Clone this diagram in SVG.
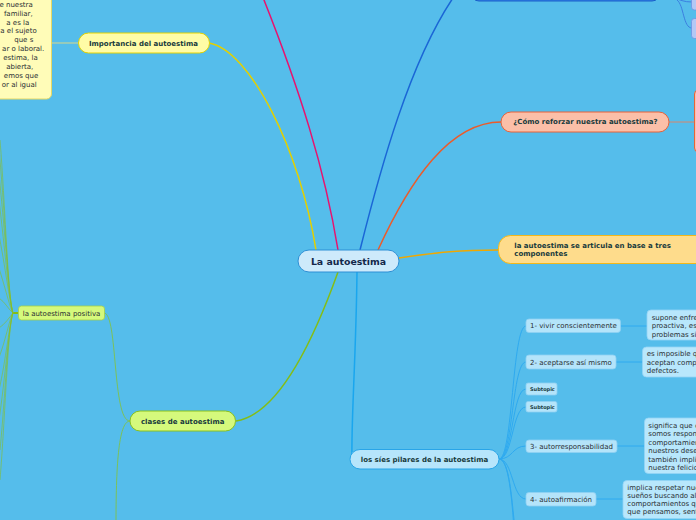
<svg xmlns="http://www.w3.org/2000/svg" width="696" height="520" viewBox="0 0 696 520">
<style>
.t{font-family:"DejaVu Sans",Verdana,sans-serif;font-size:7px;fill:#2a2f33}
.b{font-family:"DejaVu Sans",Verdana,sans-serif;font-size:7px;font-weight:bold;fill:#183a3c}
.c{fill:none}
.gf{stroke:#86c02a;stroke-width:0.8;fill:none;opacity:0.75}
.bl{stroke:#2eaaf0;stroke-width:1;fill:none}
.sub{fill:#b4e4fa;stroke:#8fd0f3;stroke-width:0.8}
.det{fill:#b8e7fc;stroke:#94d4f5;stroke-width:0.8}
</style>
<rect x="0" y="0" width="696" height="520" fill="#55BDEB"/>
<g id="connectors">
<path class="c" d="M338,250 C325,170 300,90 262,-5" stroke="#e8126e" stroke-width="1.5"/>
<path class="c" d="M360,250 C380,170 410,60 455,-5" stroke="#1a66d6" stroke-width="1.5"/>
<path class="c" d="M677,0 C684,5 683,28 692,28" stroke="#3b7fe0" stroke-width="1"/>
<path class="c" d="M672,-3 C680,0 684,2 692,2" stroke="#3b7fe0" stroke-width="1"/>
<path class="c" d="M209,43 C250,50 300,150 316,250" stroke="#e3d000" stroke-width="1.5"/>
<path class="c" d="M52,43 L78,43" stroke="#d8d88a" stroke-width="1"/>
<path class="c" d="M378,250 C410,180 450,122 501,122" stroke="#ec5b2a" stroke-width="1.5"/>
<path class="c" d="M669,122 L695,122" stroke="#d9866a" stroke-width="1"/>
<path class="c" d="M399,258 C440,252 460,250 498,250" stroke="#f0a800" stroke-width="1.5"/>
<path class="c" d="M236,421 C275,415 310,350 338,272" stroke="#84bd16" stroke-width="1.5"/>
<path class="c" d="M104,313 C118,313 112,421 130,421" stroke="#7fc24a" stroke-width="0.9"/>
<path class="c" d="M130,421 C118,421 116,470 116,525" stroke="#7fc24a" stroke-width="0.9"/>
<path class="c" d="M18,313 L12,313" stroke="#84bd16" stroke-width="2"/>
<path class="gf" d="M13,313 C8,300 5,200 0,140"/>
<path class="gf" d="M13,313 C8,300 5,210 -1,150"/>
<path class="gf" d="M13,313 C9,300 5,230 -1,175"/>
<path class="gf" d="M13,313 C9,300 5,250 -1,200"/>
<path class="gf" d="M13,313 C9,300 6,270 -2,230"/>
<path class="gf" d="M13,313 C9,305 6,290 -2,265"/>
<path class="gf" d="M13,313 C9,310 5,302 -1,298"/>
<path class="gf" d="M13,313 C9,318 5,324 -1,328"/>
<path class="gf" d="M13,313 C9,320 6,340 -2,360"/>
<path class="gf" d="M13,313 C9,325 6,360 -1,390"/>
<path class="gf" d="M13,313 C9,325 5,380 -1,420"/>
<path class="gf" d="M13,313 C8,325 5,400 0,450"/>
<path class="gf" d="M13,313 C8,325 5,420 0,480"/>
<path class="c" d="M357,272 C356,360 351,420 352,459" stroke="#1aa6ee" stroke-width="1.5"/>
<path class="bl" d="M499,459 C513,459 512,326 526,326"/>
<path class="bl" d="M499,459 C513,459 512,362 526,362"/>
<path class="bl" d="M499,459 C513,459 512,389 526,389"/>
<path class="bl" d="M499,459 C513,459 512,407 526,407"/>
<path class="bl" d="M499,459 C513,459 512,446 526,446"/>
<path class="bl" d="M499,459 C513,459 512,499 526,499"/>
<path class="bl" d="M499,459 C513,459 512,530 520,560"/>
<path class="bl" d="M499,459 C513,459 514,540 518,600"/>
<path class="bl" d="M620,326 L647,326"/>
<path class="bl" d="M616,362 L643,362"/>
<path class="bl" d="M617,446 L645,446"/>
<path class="bl" d="M596,499 L623,499"/>
</g>
<g id="blue-top">
<rect x="471" y="-20" width="189" height="21" rx="8" fill="#2f80e8" stroke="#1a5fc8" stroke-width="1"/>
</g>
<g id="blue-sub1"><rect x="691.5" y="-5" width="20" height="15" rx="3" fill="#b3c8f5" stroke="#6f93e2" stroke-width="0.8"/></g>
<g id="blue-sub2"><rect x="691.5" y="18.5" width="20" height="20" rx="3" fill="#b3c8f5" stroke="#6f93e2" stroke-width="0.8"/></g>
<g id="central">
<rect x="298" y="250" width="101" height="22" rx="11" fill="#cdeafb" stroke="#2d8fd5" stroke-width="1"/>
<text x="348.5" y="264.5" text-anchor="middle" font-family="DejaVu Sans,Verdana,sans-serif" font-size="9.4" font-weight="bold" fill="#14284a">La autoestima</text>
</g>
<g id="importancia-text">
<rect x="-10" y="-10" width="61.5" height="109" rx="5" fill="#fffcb8" stroke="#e6d964" stroke-width="1"/>
<text class="t" text-anchor="end"><tspan x="32.7" y="6.5">e nuestra</tspan><tspan x="32.7" y="15.8">familiar,</tspan><tspan x="29.3" y="24.8">a es la</tspan><tspan x="36.7" y="32.8">a el sujeto</tspan><tspan x="33.3" y="41.8">que s</tspan><tspan x="44.3" y="51.2">ar o laboral.</tspan><tspan x="37.7" y="60.2">estima, la</tspan><tspan x="33.3" y="69.2">abierta,</tspan><tspan x="38.3" y="78.2">emos que</tspan><tspan x="36.7" y="86.5">or al igual</tspan></text>
</g>
<g id="importancia">
<rect x="78.5" y="33" width="131" height="20" rx="10" fill="#fffca6" stroke="#e5d300" stroke-width="1"/>
<text class="b" x="143.5" y="45.8" text-anchor="middle">Importancia del autoestima</text>
</g>
<g id="reforzar">
<rect x="501" y="112" width="168" height="20" rx="10" fill="#fbbfa8" stroke="#e8633a" stroke-width="1"/>
<text class="b" x="513.3" y="124.3">¿Cómo reforzar nuestra autoestima?</text>
</g>
<g id="reforzar-detail">
<rect x="694.5" y="90" width="20" height="62" rx="4" fill="#fbbfa8" stroke="#e8633a" stroke-width="1"/>
</g>
<g id="componentes">
<rect x="498.5" y="235.5" width="220" height="28" rx="12" fill="#fedc8c" stroke="#f3b819" stroke-width="1"/>
<text class="b"><tspan x="514.3" y="247.8">la autoestima se articula en base a tres</tspan><tspan x="514.3" y="255.8">componentes</tspan></text>
</g>
<g id="clases">
<rect x="130" y="411" width="105.5" height="20" rx="10" fill="#d5f97c" stroke="#8cc21c" stroke-width="1"/>
<text class="b" x="182.7" y="424" text-anchor="middle">clases de autoestima</text>
</g>
<g id="positiva">
<rect x="18.5" y="306" width="86" height="14" rx="3" fill="#d5f97c" stroke="#a3cf4a" stroke-width="0.8"/>
<text class="t" x="22.7" y="315.8" fill="#2a3a20">la autoestima positiva</text>
</g>
<g id="pilares">
<rect x="350" y="449.5" width="149" height="19.5" rx="10" fill="#b6e5fb" stroke="#29a5e8" stroke-width="1"/>
<text class="b" x="424.5" y="461.8" text-anchor="middle">los síes pilares de la autoestima</text>
</g>
<g id="pilar1">
<rect class="sub" x="526" y="319" width="94.5" height="13.5" rx="3"/>
<text class="t" x="530" y="328.3">1- vivir conscientemente</text>
</g>
<g id="pilar2">
<rect class="sub" x="526" y="355" width="90" height="14" rx="3"/>
<text class="t" x="530" y="364.5">2- aceptarse así mismo</text>
</g>
<g id="subtopic1">
<rect class="sub" x="526" y="383" width="31" height="12" rx="2"/>
<text class="b" x="530" y="390.8" style="font-size:5px">Subtopic</text>
</g>
<g id="subtopic2">
<rect class="sub" x="526" y="401.5" width="31" height="10.5" rx="2"/>
<text class="b" x="530" y="408.5" style="font-size:5px">Subtopic</text>
</g>
<g id="pilar3">
<rect class="sub" x="526" y="440" width="91" height="12.5" rx="3"/>
<text class="t" x="530" y="448.8">3- autorresponsabilidad</text>
</g>
<g id="pilar4">
<rect class="sub" x="526" y="492.5" width="70" height="13.5" rx="3"/>
<text class="t" x="530" y="501.8">4- autoafirmación</text>
</g>
<g id="detalle1">
<rect class="det" x="647" y="310" width="60" height="30" rx="4"/>
<text class="t"><tspan x="651.7" y="319.5">supone enfre</tspan><tspan x="651.7" y="327.8">proactiva, es</tspan><tspan x="651.7" y="336.5">problemas si</tspan></text>
</g>
<g id="detalle2">
<rect class="det" x="642.5" y="347" width="60" height="30" rx="4"/>
<text class="t"><tspan x="646.7" y="355.5">es imposible q</tspan><tspan x="646.7" y="364.5">aceptan comp</tspan><tspan x="646.7" y="373.2">defectos.</tspan></text>
</g>
<g id="detalle3">
<rect class="det" x="644.5" y="418" width="60" height="55.5" rx="4"/>
<text class="t"><tspan x="648.3" y="427.8">significa que c</tspan><tspan x="648.3" y="436.2">somos respon</tspan><tspan x="648.3" y="444.5">comportamien</tspan><tspan x="648.3" y="452.8">nuestros dese</tspan><tspan x="648.3" y="461.5">también impli</tspan><tspan x="648.3" y="469.5">nuestra felicid</tspan></text>
</g>
<g id="detalle4">
<rect class="det" x="623" y="480.5" width="80" height="38" rx="4"/>
<text class="t"><tspan x="627.3" y="490.2">implica respetar nue</tspan><tspan x="627.3" y="497.8">sueños buscando al</tspan><tspan x="627.3" y="505.8">comportamientos qu</tspan><tspan x="627.3" y="513.8">que pensamos, sent</tspan></text>
</g>
</svg>
